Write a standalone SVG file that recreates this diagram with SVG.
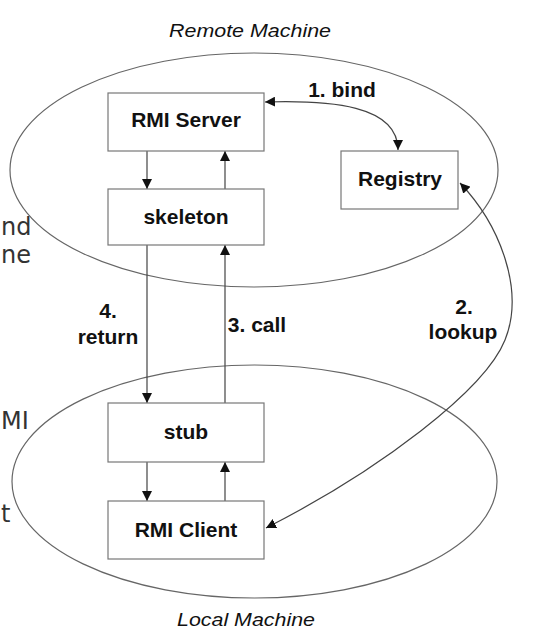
<svg xmlns="http://www.w3.org/2000/svg" width="537" height="641" viewBox="0 0 537 641">
<defs>
<style>
.ell{fill:none;stroke:#666;stroke-width:1.2}
.box{fill:#fff;stroke:#777;stroke-width:1.2}
.lbl{font-family:"Liberation Sans",Arial,sans-serif;font-weight:bold;font-size:21px;fill:#111;text-anchor:middle}
.mach{font-family:"Liberation Sans",Arial,sans-serif;font-style:italic;font-size:18px;fill:#111;text-anchor:middle}
.frag{font-family:"DejaVu Sans",sans-serif;font-size:24px;fill:#333}
.con{fill:none;stroke:#444;stroke-width:1.2}
</style>
<marker id="ah" viewBox="0 0 10 10" refX="10" refY="5" markerWidth="10" markerHeight="10" markerUnits="userSpaceOnUse" orient="auto-start-reverse">
<path d="M0,0 L10,5 L0,10 z" fill="#111"/>
</marker>
</defs>
<rect width="537" height="641" fill="#fff"/>
<g id="fragments">
<text class="frag" x="1" y="235">nd</text>
<text class="frag" x="1" y="263">ne</text>
<text class="frag" x="1" y="429">MI</text>
<text class="frag" x="1" y="522">t</text>
</g>
<g id="remote-machine">
<ellipse class="ell" cx="254" cy="170" rx="244" ry="117"/>
<text class="mach" x="250" y="37" textLength="162" lengthAdjust="spacingAndGlyphs">Remote Machine</text>
</g>
<g id="local-machine">
<ellipse class="ell" cx="254.5" cy="481.5" rx="242.5" ry="116.5"/>
<text class="mach" x="246" y="626" textLength="138" lengthAdjust="spacingAndGlyphs">Local Machine</text>
</g>
<g id="connectors">
<line class="con" x1="147" y1="151" x2="147" y2="189" marker-end="url(#ah)"/>
<line class="con" x1="225" y1="189" x2="225" y2="151" marker-end="url(#ah)"/>
<line class="con" x1="147" y1="245" x2="147" y2="403" marker-end="url(#ah)"/>
<line class="con" x1="225" y1="403" x2="225" y2="245" marker-end="url(#ah)"/>
<line class="con" x1="147" y1="462" x2="147" y2="501" marker-end="url(#ah)"/>
<line class="con" x1="225" y1="501" x2="225" y2="462" marker-end="url(#ah)"/>
<path class="con" d="M265,102 C330,100 398,105 398,150" marker-start="url(#ah)" marker-end="url(#ah)"/>
<path class="con" d="M460,183 C500,225 525,290 505,340 C485,390 380,470 266,528" marker-start="url(#ah)" marker-end="url(#ah)"/>
<text class="lbl" x="342" y="97">1. bind</text>
<text class="lbl" x="464" y="314">2.</text>
<text class="lbl" x="463" y="339">lookup</text>
<text class="lbl" x="257" y="332">3. call</text>
<text class="lbl" x="108" y="318">4.</text>
<text class="lbl" x="108" y="344">return</text>
</g>
<g id="rmi-server">
<rect class="box" x="108" y="93" width="156" height="58"/>
<text class="lbl" x="186" y="127">RMI Server</text>
</g>
<g id="skeleton">
<rect class="box" x="108" y="189" width="156" height="56"/>
<text class="lbl" x="186" y="224">skeleton</text>
</g>
<g id="registry">
<rect class="box" x="341" y="151" width="117" height="58"/>
<text class="lbl" x="400" y="186">Registry</text>
</g>
<g id="stub">
<rect class="box" x="108" y="403" width="156" height="59"/>
<text class="lbl" x="186" y="439">stub</text>
</g>
<g id="rmi-client">
<rect class="box" x="108" y="501" width="156" height="58"/>
<text class="lbl" x="186" y="537">RMI Client</text>
</g>
</svg>
